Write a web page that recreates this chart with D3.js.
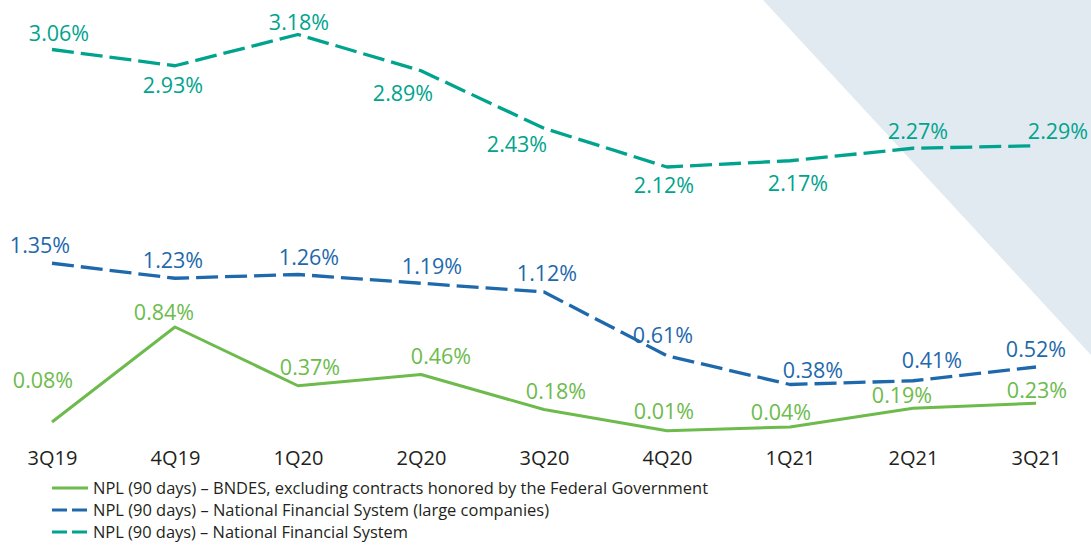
<!DOCTYPE html>
<html>
<head>
<meta charset="utf-8">
<script src="https://cdn.jsdelivr.net/npm/d3@7"></script>
<style>
  html, body { margin: 0; padding: 0; background: #ffffff; }
  svg { display: block; }
</style>
</head>
<body>
<svg id="chart" width="1091" height="545"></svg>
<script>
// Quarters on the horizontal axis
const quarters = ["3Q19", "4Q19", "1Q20", "2Q20", "3Q20", "4Q20", "1Q21", "2Q21", "3Q21"];

// NPL ratios (%) per series
const nplNationalSystem = [3.06, 2.93, 3.18, 2.89, 2.43, 2.12, 2.17, 2.27, 2.29];
const nplLargeCompanies = [1.35, 1.23, 1.26, 1.19, 1.12, 0.61, 0.38, 0.41, 0.52];
const nplBndes = [0.08, 0.84, 0.37, 0.46, 0.18, 0.01, 0.04, 0.19, 0.23];

// Legend texts
const legendNames = [
  "NPL (90 days) \u2013 BNDES, excluding contracts honored by the Federal Government",
  "NPL (90 days) \u2013 National Financial System (large companies)",
  "NPL (90 days) \u2013 National Financial System"
];

// Label placement offsets (dx, dy) relative to each point
const offsetsNational = [[7,-9],[-2,27],[1,-5],[-18,30],[-27,24],[-3,26],[8,30],[5,-9],[22,-7]];
const offsetsLarge = [[-12,-10],[-2,-10],[11,-10],[11,-9],[3,-11],[-4,-13],[23,-7],[19,-13],[0,-10]];
const offsetsBndes = [[-9,-34],[-11,-7],[12,-11],[20,-11],[12,-11],[-3,-12],[-9,-7],[-11,-5],[1,-5]];

const svg = d3.select("#chart");
const W = 1091, H = 545;

// Decorative triangle in the upper right corner
svg.append("path")
  .attr("d", `M763,0 L${W},0 L${W},355 Z`)
  .attr("fill", "#e1e9f1");

const x = d3.scalePoint().domain(quarters).range([52, 1036]);
const y = d3.scaleLinear().domain([0, 3.2]).range([432, 32]);

const series = [
  { values: nplNationalSystem, color: "#00a38d", dash: "22,7", width: 3.3, offsets: offsetsNational },
  { values: nplLargeCompanies, color: "#1e68ac", dash: "22,7", width: 3.3, offsets: offsetsLarge },
  { values: nplBndes, color: "#6cbb4c", dash: null, width: 3, offsets: offsetsBndes }
];

const line = d3.line()
  .x((d, i) => x(quarters[i]))
  .y(d => y(d));

series.forEach(s => {
  svg.append("path")
    .datum(s.values)
    .attr("d", line)
    .attr("fill", "none")
    .attr("stroke", s.color)
    .attr("stroke-width", s.width)
    .attr("stroke-dasharray", s.dash)
    .attr("stroke-linejoin", "round");

  svg.append("g")
    .selectAll("text")
    .data(s.values)
    .join("text")
    .attr("x", (d, i) => x(quarters[i]) + s.offsets[i][0])
    .attr("y", (d, i) => y(d) + s.offsets[i][1])
    .attr("text-anchor", "middle")
    .attr("font-family", "'Open Sans', sans-serif")
    .attr("font-size", 21.5)
    .attr("fill", s.color)
    .text(d => d.toFixed(2) + "%");
});

// Category axis (labels only)
const xAxis = d3.axisBottom(x).tickSize(0).tickPadding(0);
const axisG = svg.append("g")
  .attr("transform", "translate(0,450)")
  .call(xAxis);
axisG.select(".domain").remove();
axisG.selectAll("text")
  .attr("dy", null)
  .attr("y", 15)
  .attr("font-family", "'Open Sans', sans-serif")
  .attr("font-size", 20)
  .attr("fill", "#231f20");

// Legend
const legendColors = ["#6cbb4c", "#1e68ac", "#00a38d"];
const legendDash = [null, "15,5", "15,5"];
const legendWidths = [615, 456, 315];
const legend = svg.append("g");
legendNames.forEach((name, i) => {
  const cy = 488 + i * 22;
  legend.append("line")
    .attr("x1", 52).attr("x2", 88)
    .attr("y1", cy).attr("y2", cy)
    .attr("stroke", legendColors[i])
    .attr("stroke-width", 3)
    .attr("stroke-dasharray", legendDash[i]);
  legend.append("text")
    .attr("x", 93)
    .attr("y", cy + 5.5)
    .attr("font-family", "'Open Sans', sans-serif")
    .attr("font-size", 16)
    .attr("fill", "#231f20")
    .attr("textLength", legendWidths[i])
    .attr("lengthAdjust", "spacingAndGlyphs")
    .text(name);
});
</script>
</body>
</html>
